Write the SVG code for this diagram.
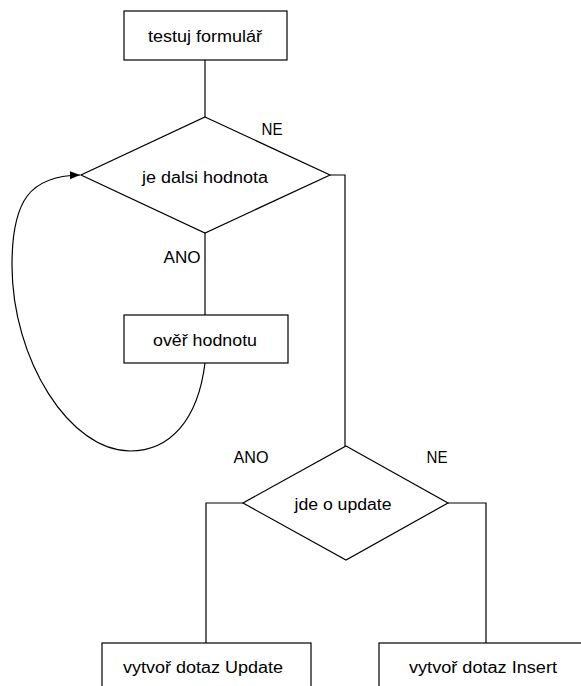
<svg xmlns="http://www.w3.org/2000/svg" width="581" height="686" viewBox="0 0 581 686">
<defs>
<style>
.n{fill:#fff;stroke:#000;stroke-width:1.2}
.c{fill:none;stroke:#000;stroke-width:1.2}
text{font-family:"Liberation Sans",Arial,sans-serif;font-size:16px;fill:#000;text-anchor:middle}
</style>
<marker id="ah" viewBox="0 0 10 10" refX="10" refY="5" markerWidth="10" markerHeight="10" markerUnits="userSpaceOnUse" orient="auto">
<path d="M0,1 L10,5 L0,9 Z" fill="#000"/>
</marker>
</defs>
<rect width="581" height="686" fill="#fff"/>
<g id="connectors">
<path class="c" d="M205,60 V117"/>
<path class="c" d="M205,233 V315"/>
<path class="c" d="M330,175 H345 V446"/>
<path class="c" d="M243,503 H206 V643"/>
<path class="c" d="M448,503 H486 V643"/>
<path class="c" d="M205,363 C198,420 170,451 130,451 C70,451 12,360 12,265 C12,200 30,176 80,175" marker-end="url(#ah)"/>
<text x="272" y="135" textLength="21" lengthAdjust="spacingAndGlyphs">NE</text>
<text x="182" y="263" textLength="37" lengthAdjust="spacingAndGlyphs">ANO</text>
<text x="251" y="463" textLength="35" lengthAdjust="spacingAndGlyphs">ANO</text>
<text x="437" y="463" textLength="21" lengthAdjust="spacingAndGlyphs">NE</text>
</g>
<g id="n1"><rect class="n" x="124" y="11" width="163" height="49"/><text x="205" y="42" textLength="114" lengthAdjust="spacingAndGlyphs">testuj formulář</text></g>
<g id="d1"><path class="n" d="M205,117 L330,175 L205,233 L81,175 Z"/><text x="205" y="183" textLength="126" lengthAdjust="spacingAndGlyphs">je dalsi hodnota</text></g>
<g id="n2"><rect class="n" x="124" y="315" width="164" height="48"/><text x="205" y="346" textLength="104" lengthAdjust="spacingAndGlyphs">ověř hodnotu</text></g>
<g id="d2"><path class="n" d="M346,446 L448,503 L346,560 L243,503 Z"/><text x="343" y="510" textLength="97" lengthAdjust="spacingAndGlyphs">jde o update</text></g>
<g id="n3"><rect class="n" x="102" y="643" width="209" height="60"/><text x="203" y="673" textLength="160" lengthAdjust="spacingAndGlyphs">vytvoř dotaz Update</text></g>
<g id="n4"><rect class="n" x="379" y="643" width="210" height="60"/><text x="483" y="673" textLength="148" lengthAdjust="spacingAndGlyphs">vytvoř dotaz Insert</text></g>
</svg>
